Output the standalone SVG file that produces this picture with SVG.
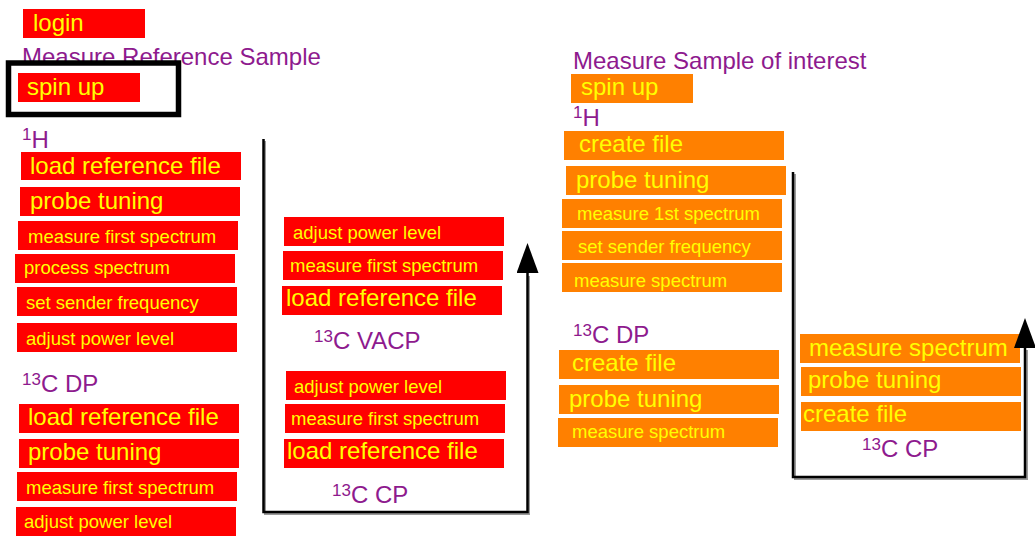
<svg xmlns="http://www.w3.org/2000/svg" width="1035" height="539" viewBox="0 0 1035 539">
  <style>
    text { font-family: "Liberation Sans", Arial, sans-serif; }
    .red { fill: #ff0000; }
    .org { fill: #ff8000; }
    .big { fill: #ffff00; font-size: 24px; }
    .sm { fill: #ffff00; font-size: 18.5px; }
    .hdr { fill: #8e1a8e; font-size: 24px; }
    .sup { font-size: 17px; }
    .wire { fill: none; stroke: #000; stroke-width: 2.5; }
    .shade { fill: none; stroke: #9a9a9a; stroke-width: 2; }
  </style>
  <defs>
    <!-- filled triangle; its base sits on the line end, the tip points onward -->
    <marker id="arrowhead" viewBox="0 0 30 22" refX="0" refY="11" markerWidth="30" markerHeight="22" markerUnits="userSpaceOnUse" orient="auto">
      <path d="M30 11 L0 0 L0 22 Z" fill="#000"/>
    </marker>
  </defs>

  <!-- section headings -->
  <g id="title-reference"><text class="hdr" x="22" y="65">Measure Reference Sample</text></g>
  <g id="title-sample"><text class="hdr" x="573" y="69">Measure Sample of interest</text></g>

  <!-- reference sample, left column -->
  <g id="login"><rect class="red" x="23" y="9" width="122" height="29"/><text class="big" x="33" y="31">login</text></g>
  <g id="spinup-frame"><rect x="8.5" y="63" width="170" height="51.5" fill="none" stroke="#000" stroke-width="5.5"/></g>
  <g id="spinup-ref"><rect class="red" x="18" y="73" width="122" height="29"/><text class="big" x="27" y="95">spin up</text></g>
  <g id="label-1h-ref"><text class="hdr" x="22" y="148"><tspan class="sup" dy="-8">1</tspan><tspan dy="8">H</tspan></text></g>
  <g id="h-load"><rect class="red" x="21" y="152" width="220" height="28"/><text class="big" x="30" y="174">load reference file</text></g>
  <g id="h-tune"><rect class="red" x="20" y="187" width="220" height="29"/><text class="big" x="30" y="209">probe tuning</text></g>
  <g id="h-measure"><rect class="red" x="18" y="221" width="220" height="29"/><text class="sm" x="28" y="243">measure first spectrum</text></g>
  <g id="h-process"><rect class="red" x="15" y="254" width="220" height="29"/><text class="sm" x="24" y="274">process spectrum</text></g>
  <g id="h-sender"><rect class="red" x="17" y="287" width="220" height="29"/><text class="sm" x="26" y="309">set sender frequency</text></g>
  <g id="h-power"><rect class="red" x="17" y="323" width="220" height="29"/><text class="sm" x="26" y="345">adjust power level</text></g>
  <g id="label-cdp-ref"><text class="hdr" x="22" y="392"><tspan class="sup" dy="-7">13</tspan><tspan dy="7">C DP</tspan></text></g>
  <g id="dp-load"><rect class="red" x="19" y="404" width="220" height="29"/><text class="big" x="28" y="425">load reference file</text></g>
  <g id="dp-tune"><rect class="red" x="19" y="439" width="220" height="29"/><text class="big" x="28" y="460">probe tuning</text></g>
  <g id="dp-measure"><rect class="red" x="17" y="472" width="220" height="29"/><text class="sm" x="26" y="494">measure first spectrum</text></g>
  <g id="dp-power"><rect class="red" x="16" y="507" width="220" height="29"/><text class="sm" x="24" y="528">adjust power level</text></g>

  <!-- reference sample, stacked loop -->
  <g id="vacp-power"><rect class="red" x="284" y="217" width="220" height="29"/><text class="sm" x="293" y="239">adjust power level</text></g>
  <g id="vacp-measure"><rect class="red" x="283" y="251" width="220" height="29"/><text class="sm" x="290" y="272">measure first spectrum</text></g>
  <g id="vacp-load"><rect class="red" x="282" y="286" width="220" height="29"/><text class="big" x="286" y="306">load reference file</text></g>
  <g id="label-vacp"><text class="hdr" x="314" y="349"><tspan class="sup" dy="-7">13</tspan><tspan dy="7">C VACP</tspan></text></g>
  <g id="cp-power"><rect class="red" x="286" y="371" width="220" height="29"/><text class="sm" x="294" y="393">adjust power level</text></g>
  <g id="cp-measure"><rect class="red" x="285" y="404" width="220" height="29"/><text class="sm" x="291" y="425">measure first spectrum</text></g>
  <g id="cp-load"><rect class="red" x="284" y="439" width="220" height="29"/><text class="big" x="287" y="459">load reference file</text></g>
  <g id="label-cp-ref"><text class="hdr" x="332" y="503"><tspan class="sup" dy="-7">13</tspan><tspan dy="7">C CP</tspan></text></g>

  <!-- sample of interest, left column -->
  <g id="spinup-sample"><rect class="org" x="571" y="74" width="122" height="29"/><text class="big" x="581" y="95">spin up</text></g>
  <g id="label-1h-sample"><text class="hdr" x="573" y="126"><tspan class="sup" dy="-8">1</tspan><tspan dy="8">H</tspan></text></g>
  <g id="s-create"><rect class="org" x="564" y="131" width="220" height="29"/><text class="big" x="579" y="152">create file</text></g>
  <g id="s-tune"><rect class="org" x="566" y="166" width="220" height="29"/><text class="big" x="576" y="188">probe tuning</text></g>
  <g id="s-measure1"><rect class="org" x="562" y="199" width="220" height="29"/><text class="sm" x="577" y="220">measure 1st spectrum</text></g>
  <g id="s-sender"><rect class="org" x="562" y="231" width="220" height="29"/><text class="sm" x="578" y="253">set sender frequency</text></g>
  <g id="s-measure"><rect class="org" x="562" y="263" width="220" height="29"/><text class="sm" x="574" y="287">measure spectrum</text></g>
  <g id="label-cdp-sample"><text class="hdr" x="573" y="343"><tspan class="sup" dy="-7">13</tspan><tspan dy="7">C DP</tspan></text></g>
  <g id="sdp-create"><rect class="org" x="559" y="350" width="220" height="29"/><text class="big" x="572" y="371">create file</text></g>
  <g id="sdp-tune"><rect class="org" x="559" y="385" width="220" height="29"/><text class="big" x="569" y="407">probe tuning</text></g>
  <g id="sdp-measure"><rect class="org" x="558" y="418" width="220" height="29"/><text class="sm" x="572" y="438">measure spectrum</text></g>

  <!-- sample of interest, stacked loop -->
  <g id="scp-measure"><rect class="org" x="800" y="334" width="220" height="29"/><text class="big" x="809" y="356">measure spectrum</text></g>
  <g id="scp-tune"><rect class="org" x="801" y="367" width="220" height="29"/><text class="big" x="808" y="388">probe tuning</text></g>
  <g id="scp-create"><rect class="org" x="801" y="402" width="220" height="29"/><text class="big" x="803" y="422">create file</text></g>
  <g id="label-cp-sample"><text class="hdr" x="862" y="457"><tspan class="sup" dy="-7">13</tspan><tspan dy="7">C CP</tspan></text></g>

  <!-- loop connectors -->
  <g id="connectors">
    <path class="shade" d="M265 141 V514 H529 V276"/>
    <path class="wire" d="M263.5 139 V512 H527.5 V273" marker-end="url(#arrowhead)"/>
    <path class="shade" d="M795 174 V479 H1027 V350"/>
    <path class="wire" d="M793 172 V477 H1025 V348" marker-end="url(#arrowhead)"/>
  </g>
</svg>
